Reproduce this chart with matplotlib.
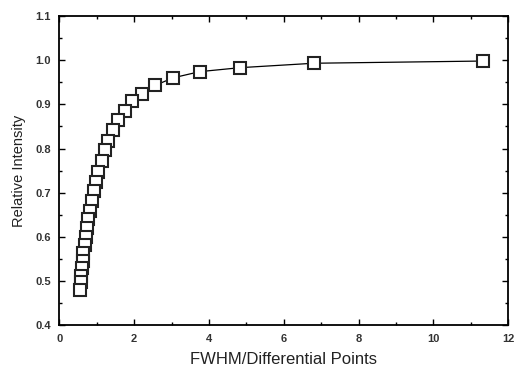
import matplotlib
matplotlib.use("Agg")
import matplotlib.pyplot as plt
from matplotlib.ticker import MultipleLocator

plt.rcParams['font.family'] = ['Liberation Sans', 'DejaVu Sans']

x_vals = [11.32, 6.80, 4.83, 3.75, 3.04, 2.56, 2.22, 1.95, 1.75, 1.57, 1.43, 1.30,
          1.21, 1.13, 1.04, 0.98, 0.92, 0.86, 0.82, 0.77, 0.73, 0.70, 0.67, 0.64,
          0.62, 0.60, 0.585, 0.57, 0.555]
y_vals = [0.998, 0.993, 0.983, 0.974, 0.960, 0.943, 0.924, 0.907, 0.886, 0.864,
          0.841, 0.818, 0.796, 0.771, 0.748, 0.725, 0.703, 0.682, 0.659, 0.640,
          0.621, 0.600, 0.582, 0.564, 0.545, 0.530, 0.512, 0.497, 0.481]

x_label = "FWHM/Differential Points"
y_label = "Relative Intensity"

fig = plt.figure(figsize=(5.17, 3.71), dpi=100)
ax = fig.add_axes([0.115, 0.123, 0.868, 0.834])

ax.plot(x_vals, y_vals, color='black', linewidth=0.9, marker='s', markersize=8.5,
        markerfacecolor='white', markeredgecolor='#222222', markeredgewidth=1.5)

ax.set_xlim(0, 12)
ax.set_ylim(0.4, 1.1)
ax.xaxis.set_major_locator(MultipleLocator(2))
ax.xaxis.set_minor_locator(MultipleLocator(1))
ax.yaxis.set_major_locator(MultipleLocator(0.1))
ax.yaxis.set_minor_locator(MultipleLocator(0.05))
ax.tick_params(which='both', direction='in', top=True, right=True, labelsize=8, width=1, pad=6)
ax.tick_params(which='major', length=4)
ax.tick_params(which='minor', length=2.5)
ax.xaxis.set_major_formatter(plt.FuncFormatter(lambda v, p: f"{v:.0f}"))
ax.yaxis.set_major_formatter(plt.FuncFormatter(lambda v, p: f"{v:.1f}"))
for lbl in ax.get_xticklabels() + ax.get_yticklabels():
    lbl.set_fontweight('bold')
    lbl.set_color('#333333')
for s in ax.spines.values():
    s.set_linewidth(1.3)

ax.set_xlabel(x_label, fontsize=12, color='#222222', labelpad=6)
ax.set_ylabel(y_label, fontsize=10.5, color='#222222', labelpad=7)

fig.savefig("out.png", dpi=100)
